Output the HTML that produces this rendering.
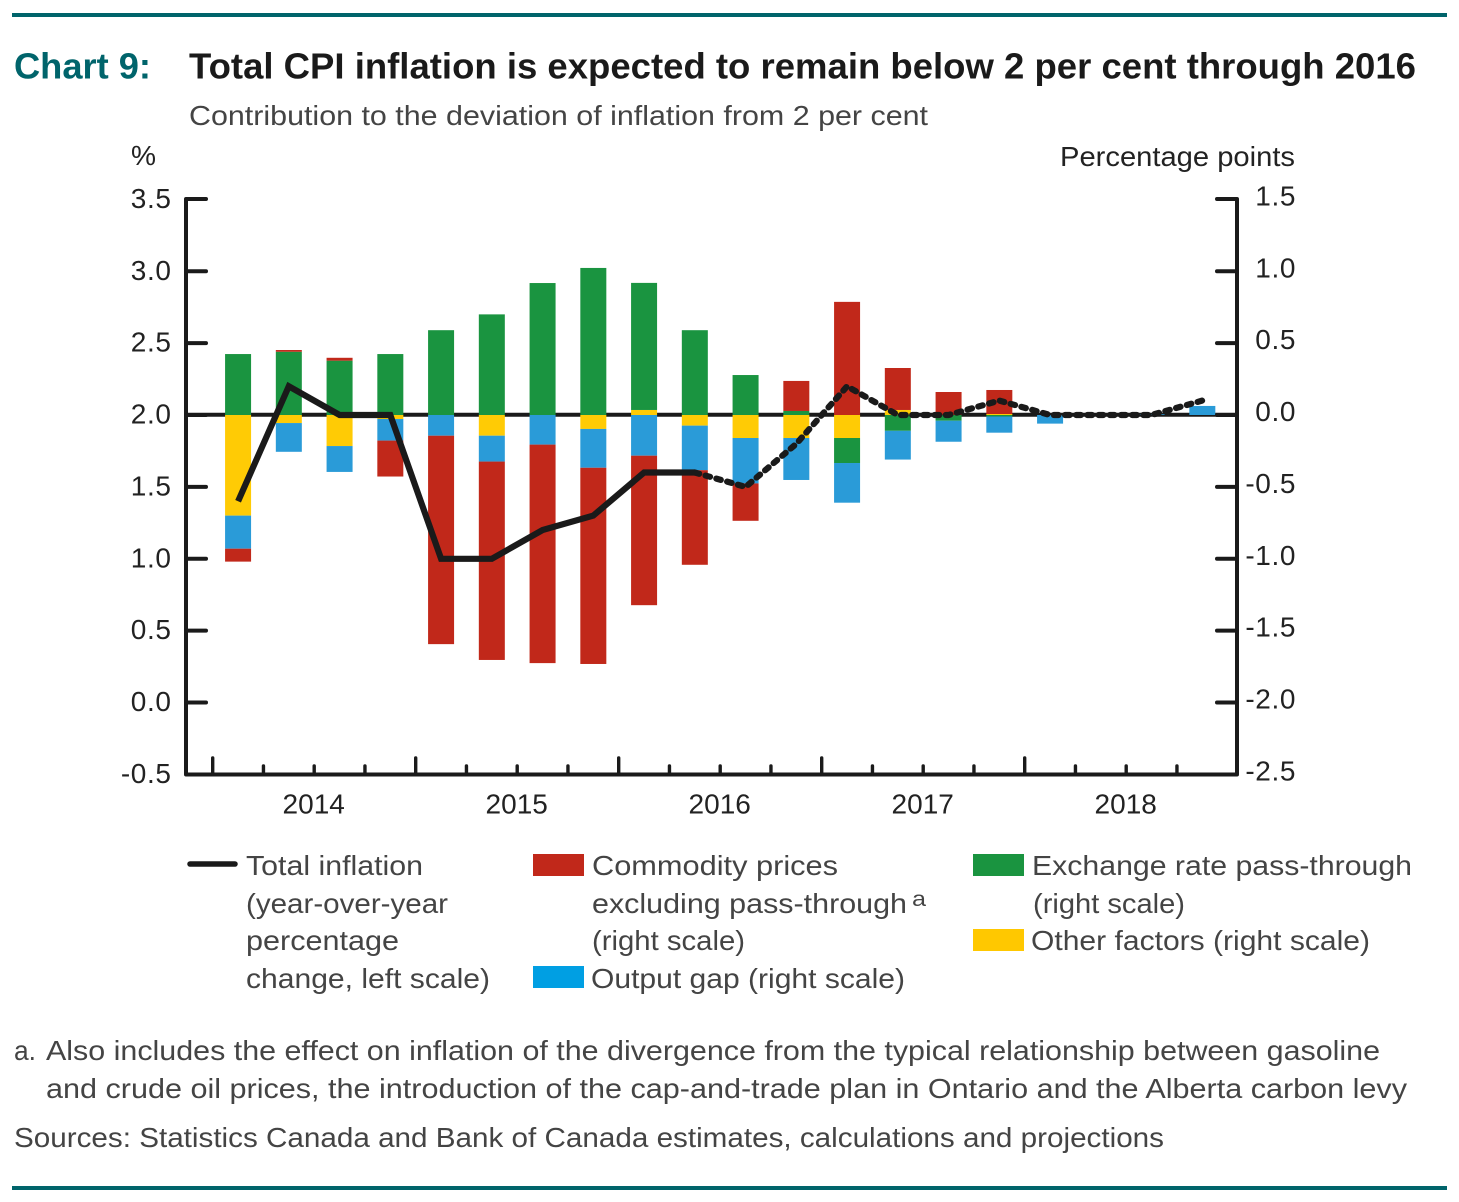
<!DOCTYPE html>
<html lang="en">
<head>
<meta charset="utf-8">
<title>Chart 9: Total CPI inflation</title>
<style>
html,body{margin:0;padding:0;background:#fff}
svg{display:block}
text{font-family:"Liberation Sans",Arial,sans-serif}
.g{fill:#444;font-size:28px}
.k{fill:#222;font-size:28px}
.n{letter-spacing:.6px}
</style>
</head>
<body>
<svg id="chart" xmlns="http://www.w3.org/2000/svg" width="1459" height="1202" viewBox="0 0 1459 1202">
<rect x="12" y="13" width="1435" height="4" fill="#00646b"/>
<text x="14" y="78.5" font-size="36" font-weight="700" fill="#00646b" textLength="137" lengthAdjust="spacingAndGlyphs">Chart 9:</text>
<text x="189" y="78.5" font-size="36" font-weight="700" fill="#1a1a1a" textLength="1227" lengthAdjust="spacingAndGlyphs">Total CPI inflation is expected to remain below 2 per cent through 2016</text>
<text class="g" x="189" y="125" textLength="739" lengthAdjust="spacingAndGlyphs">Contribution to the deviation of inflation from 2 per cent</text>
<text class="k" x="131" y="165" textLength="25" lengthAdjust="spacingAndGlyphs">%</text>
<text class="k" x="1060" y="166" textLength="235" lengthAdjust="spacingAndGlyphs">Percentage points</text>

<g id="bars"></g>
<g id="axes"></g>
<g id="lines"></g>

<g>
<line x1="190" y1="864" x2="235" y2="864" stroke="#1a1a1a" stroke-width="5.5" stroke-linecap="round"/>
<text class="g" x="246" y="875" textLength="177" lengthAdjust="spacingAndGlyphs">Total inflation</text>
<text class="g" x="246" y="913" textLength="202" lengthAdjust="spacingAndGlyphs">(year-over-year</text>
<text class="g" x="246" y="950" textLength="153" lengthAdjust="spacingAndGlyphs">percentage</text>
<text class="g" x="246" y="988" textLength="244" lengthAdjust="spacingAndGlyphs">change, left scale)</text>

<rect x="533" y="854" width="51" height="22" fill="#c1281a"/>
<text class="g" x="592" y="875" textLength="246" lengthAdjust="spacingAndGlyphs">Commodity prices</text>
<text class="g" x="592" y="913" textLength="315" lengthAdjust="spacingAndGlyphs">excluding pass-through</text>
<text x="912" y="906" font-size="21" fill="#444" textLength="14" lengthAdjust="spacingAndGlyphs">a</text>
<text class="g" x="592" y="950" textLength="153" lengthAdjust="spacingAndGlyphs">(right scale)</text>

<rect x="533" y="966" width="51" height="22" fill="#009fe3"/>
<text class="g" x="591" y="988" textLength="314" lengthAdjust="spacingAndGlyphs">Output gap (right scale)</text>

<rect x="973" y="854" width="51" height="22" fill="#1a9440"/>
<text class="g" x="1032" y="875" textLength="380" lengthAdjust="spacingAndGlyphs">Exchange rate pass-through</text>
<text class="g" x="1033" y="913" textLength="152" lengthAdjust="spacingAndGlyphs">(right scale)</text>

<rect x="973" y="929" width="51" height="22" fill="#ffc800"/>
<text class="g" x="1031" y="950" textLength="339" lengthAdjust="spacingAndGlyphs">Other factors (right scale)</text>
</g>

<text class="g" x="14" y="1060" textLength="22" lengthAdjust="spacingAndGlyphs">a.</text>
<text class="g" x="46" y="1060" textLength="1334" lengthAdjust="spacingAndGlyphs">Also includes the effect on inflation of the divergence from the typical relationship between gasoline</text>
<text class="g" x="46" y="1098" textLength="1361" lengthAdjust="spacingAndGlyphs">and crude oil prices, the introduction of the cap-and-trade plan in Ontario and the Alberta carbon levy</text>
<text class="g" x="14" y="1147" textLength="1150" lengthAdjust="spacingAndGlyphs">Sources: Statistics Canada and Bank of Canada estimates, calculations and projections</text>
<rect x="12" y="1186" width="1435" height="4" fill="#00646b"/>
</svg>

<script>
const quarters = ["2014Q1","2014Q2","2014Q3","2014Q4","2015Q1","2015Q2","2015Q3","2015Q4","2016Q1","2016Q2","2016Q3","2016Q4","2017Q1","2017Q2","2017Q3","2017Q4","2018Q1","2018Q2","2018Q3","2018Q4"];
const years = ["2014","2015","2016","2017","2018"];
const leftTicks = [3.5,3.0,2.5,2.0,1.5,1.0,0.5,0.0,-0.5];
const rightTicks = [1.5,1.0,0.5,0.0,-0.5,-1.0,-1.5,-2.0,-2.5];
const otherFactors = [-0.70,-0.056,-0.216,-0.028,0,-0.144,0,-0.097,0.035,-0.074,-0.16,-0.16,-0.16,0.035,0,0.007,0,0,0,0];
const exchangeRate = [0.424,0.44,0.378,0.424,0.59,0.70,0.918,1.023,0.884,0.59,0.278,0.028,-0.174,-0.11,-0.04,-0.01,0,0,0,0];
const outputGap = [-0.23,-0.20,-0.18,-0.15,-0.144,-0.18,-0.206,-0.27,-0.283,-0.31,-0.316,-0.292,-0.276,-0.20,-0.146,-0.113,-0.06,0,0.005,0.063];
const commodityPrices = [-0.09,0.012,0.02,-0.25,-1.45,-1.38,-1.52,-1.365,-1.04,-0.658,-0.26,0.209,0.787,0.292,0.16,0.167,0,0,0,0];
const totalInflation = [1.4,2.2,2.0,2.0,1.0,1.0,1.2,1.3,1.6,1.6,1.5,1.8,2.2,2.0,2.0,2.1,2.0,2.0,2.0,2.1];
const projectionStart = 9;
const seriesNames = ["other-factors","exchange-rate","output-gap","commodity-prices"];
const seriesValues = [otherFactors,exchangeRate,outputGap,commodityPrices];
const seriesColors = ["#ffcb05","#1a9440","#2a9bd8","#c1281a"];

const NS = "http://www.w3.org/2000/svg";
const unit = 143.75;
const zeroY = 415;
const bandW = 50.75;
const bandX0 = 212.7;
const barW = 26;
const axisL = 186, axisR = 1237, axisB = 774.5, axisT = 199;
const ink = "#1a1a1a";

function bandX(i){ return bandX0 + bandW * i; }
function xCenter(i){ return bandX(i) + bandW / 2; }
function yRight(v){ return zeroY - unit * v; }
function yLeft(v){ return zeroY - unit * (v - 2); }
function make(tag, attrs){
  const el = document.createElementNS(NS, tag);
  for (const k in attrs) el.setAttribute(k, attrs[k]);
  return el;
}

const barsG = document.getElementById("bars");
const axesG = document.getElementById("axes");
const linesG = document.getElementById("lines");

// zero line sits below the bars
const zeroLine = make("line", {x1:axisL, y1:zeroY-0.3, x2:axisR, y2:zeroY-0.3, stroke:ink, "stroke-width":4});


barsG.appendChild(zeroLine);

// stacked bars
quarters.forEach(function(q, i){
  let pos = 0, neg = 0;
  seriesValues.forEach(function(vals, s){
    const v = vals[i];
    if (!v) return;
    let top, bottom;
    if (v > 0) { top = yRight(pos + v); bottom = yRight(pos); pos += v; }
    else { top = yRight(neg); bottom = yRight(neg + v); neg += v; }
    const r = make("rect", {x:xCenter(i)-barW/2, y:top, width:barW, height:bottom-top, fill:seriesColors[s]});
    
    
    barsG.appendChild(r);
  });
});

// axis frame
const frame = make("path", {d:"M"+(axisL+20)+" "+axisT+"H"+axisL+"V"+axisB+"H"+axisR+"V"+axisT+"H"+(axisR-20), fill:"none", stroke:ink, "stroke-width":4, "stroke-linejoin":"round", "stroke-linecap":"round"});


axesG.appendChild(frame);

// y ticks and labels
leftTicks.forEach(function(v){
  const y = yLeft(v);
  if (v > -0.5 && v < 3.5) {
    const t = make("line", {x1:axisL, y1:y, x2:axisL+20, y2:y, stroke:ink, "stroke-width":4, "stroke-linecap":"round"});
    
    
    axesG.appendChild(t);
  }
  const l = make("text", {x:171.5, y:y+8.5, "text-anchor":"end", class:"k n"});
  
  
  l.textContent = v.toFixed(1);
  axesG.appendChild(l);
});
rightTicks.forEach(function(v){
  const y = yRight(v);
  if (v > -2.5 && v < 1.5) {
    const t = make("line", {x1:axisR-20, y1:y, x2:axisR, y2:y, stroke:ink, "stroke-width":4, "stroke-linecap":"round"});
    
    
    axesG.appendChild(t);
  }
  const l = make("text", {x:1296, y:y+6, "text-anchor":"end", class:"k n"});
  
  
  l.textContent = v.toFixed(1);
  axesG.appendChild(l);
});

// x ticks and year labels
quarters.forEach(function(q, i){
  const major = i % 4 === 0;
  const t = make("line", {x1:bandX(i), y1:axisB, x2:bandX(i), y2:major ? 758 : 766, stroke:ink, "stroke-width":3.4, "stroke-linecap":"round"});
  
  
  axesG.appendChild(t);
});
years.forEach(function(yr, k){
  const l = make("text", {x:bandX(k*4 + 2) - 0.5, y:813.5, "text-anchor":"middle", class:"k"});
  
  
  l.textContent = yr;
  axesG.appendChild(l);
});

// inflation line
const pts = totalInflation.map(function(v, i){ return [xCenter(i), yLeft(v)]; });
function straight(from, to){
  let d = "";
  for (let i = from; i <= to; i++) d += (i === from ? "M" : "L") + pts[i][0].toFixed(1) + " " + pts[i][1].toFixed(1);
  return d;
}
const solid = make("path", {d:straight(0, projectionStart), fill:"none", stroke:ink, "stroke-width":6.2, "stroke-linejoin":"miter"});


linesG.appendChild(solid);
const dashed = make("path", {d:straight(projectionStart, quarters.length-1), fill:"none", stroke:ink, "stroke-width":6.2, "stroke-linejoin":"round", "stroke-linecap":"round", "stroke-dasharray":"4.6 6.6"});


linesG.appendChild(dashed);
</script>
</body>
</html>
